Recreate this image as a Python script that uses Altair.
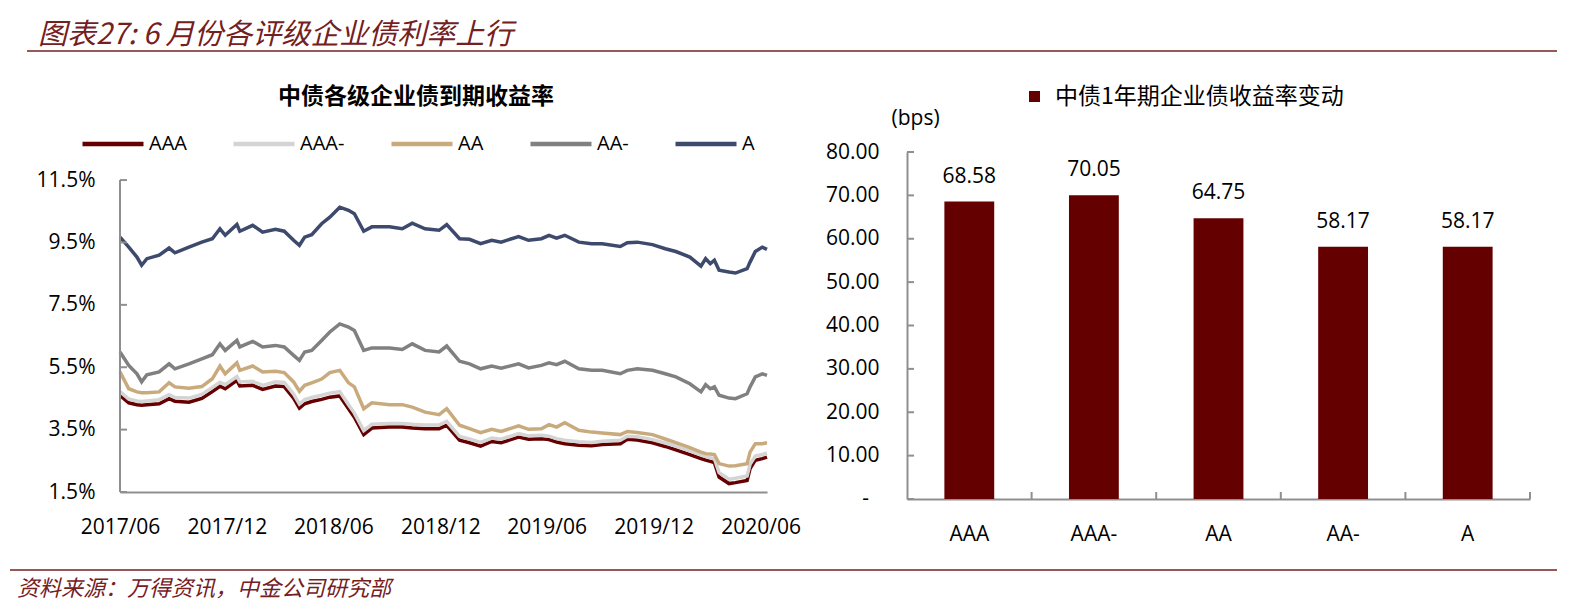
import altair as alt
import pandas as pd

# ---------------- data ----------------
dates = ["2017-06-01","2017-06-16","2017-06-30","2017-07-08","2017-07-17","2017-08-07","2017-08-24",
         "2017-09-03","2017-09-27","2017-10-19","2017-11-06","2017-11-19","2017-11-28","2017-12-18",
         "2017-12-23","2018-01-14","2018-01-31","2018-02-22","2018-03-09","2018-03-25","2018-04-04",
         "2018-04-13","2018-04-25","2018-05-12","2018-05-26","2018-06-12","2018-06-27","2018-07-07",
         "2018-07-23","2018-08-06","2018-09-05","2018-09-27","2018-10-14","2018-11-05","2018-11-29",
         "2018-12-12","2019-01-03","2019-01-20","2019-02-08","2019-02-27","2019-03-15","2019-04-14",
         "2019-05-01","2019-05-23","2019-06-05","2019-06-18","2019-07-02","2019-07-26","2019-08-17",
         "2019-09-04","2019-10-05","2019-10-17","2019-11-03","2019-11-29","2019-12-21","2020-01-08",
         "2020-02-01","2020-02-20","2020-02-28","2020-03-07","2020-03-14","2020-03-22","2020-04-08",
         "2020-04-19","2020-05-09","2020-05-14","2020-05-23","2020-06-04","2020-06-12"]

aaa = [4.60,4.36,4.30,4.28,4.30,4.33,4.49,4.41,4.38,4.50,
       4.72,4.89,4.81,5.08,4.90,4.92,4.79,4.90,4.88,4.51,
       4.19,4.33,4.40,4.47,4.54,4.58,4.17,3.90,3.34,3.55,
       3.58,3.58,3.55,3.53,3.53,3.64,3.16,3.08,2.97,3.12,
       3.08,3.26,3.19,3.21,3.18,3.10,3.05,3.00,2.98,3.02,
       3.05,3.19,3.17,3.08,2.96,2.85,2.70,2.57,2.52,2.48,
       2.44,1.98,1.77,1.80,1.87,2.25,2.52,2.57,2.62]

aaa_minus = [4.72,4.48,4.42,4.40,4.42,4.46,4.62,4.53,4.51,4.63,
             4.85,5.02,4.94,5.20,5.03,5.05,4.92,5.03,5.01,4.64,
             4.32,4.46,4.53,4.60,4.67,4.72,4.30,4.03,3.47,3.67,
             3.70,3.70,3.67,3.65,3.65,3.76,3.28,3.20,3.09,3.23,
             3.19,3.37,3.30,3.32,3.29,3.21,3.16,3.11,3.09,3.13,
             3.16,3.29,3.27,3.18,3.07,2.97,2.82,2.69,2.64,2.60,
             2.57,2.12,1.91,1.94,2.01,2.39,2.65,2.70,2.75]

aa = [5.35,4.81,4.71,4.68,4.68,4.71,5.00,4.87,4.83,4.88,
      5.13,5.54,5.29,5.64,5.40,5.54,5.35,5.37,5.33,5.03,
      4.73,4.92,5.00,5.12,5.33,5.40,5.00,4.87,4.17,4.36,
      4.30,4.30,4.22,4.06,3.98,4.17,3.64,3.53,3.40,3.51,
      3.44,3.62,3.51,3.53,3.66,3.58,3.72,3.48,3.42,3.39,
      3.34,3.44,3.41,3.34,3.20,3.08,2.92,2.78,2.73,2.72,
      2.70,2.41,2.33,2.34,2.41,2.78,3.05,3.05,3.08]

aa_minus = [5.99,5.56,5.29,5.03,5.26,5.35,5.61,5.45,5.61,5.77,
            5.90,6.25,6.04,6.36,6.15,6.33,6.15,6.20,6.15,5.88,
            5.72,5.99,6.04,6.36,6.63,6.89,6.79,6.68,6.04,6.12,
            6.12,6.07,6.25,6.04,5.99,6.18,5.69,5.61,5.45,5.54,
            5.47,5.61,5.48,5.56,5.64,5.58,5.69,5.45,5.40,5.40,
            5.29,5.40,5.45,5.40,5.29,5.19,4.97,4.71,4.94,4.81,
            4.87,4.60,4.51,4.49,4.65,4.87,5.19,5.29,5.24]

a_rating = [9.67,9.35,9.03,8.77,8.98,9.09,9.32,9.17,9.35,9.51,
            9.62,9.94,9.73,10.08,9.86,10.05,9.83,9.92,9.86,9.57,
            9.41,9.67,9.75,10.10,10.31,10.63,10.53,10.42,9.86,10.00,
            10.00,9.94,10.12,9.94,9.89,10.07,9.62,9.60,9.46,9.57,
            9.51,9.69,9.57,9.62,9.73,9.64,9.73,9.51,9.46,9.46,
            9.37,9.49,9.51,9.43,9.30,9.21,9.03,8.74,8.98,8.82,
            8.93,8.61,8.55,8.52,8.66,8.87,9.21,9.35,9.28]

ratings = ["AAA", "AAA-", "AA", "AA-", "A"]
line_colors = ["#660000", "#d4d4d4", "#c9aa7d", "#808080", "#3d4a6d"]

bar_categories = ["AAA", "AAA-", "AA", "AA-", "A"]
bar_values = [68.58, 70.05, 64.75, 58.17, 58.17]
bar_series = "中债1年期企业债收益率变动"
bar_color = "#650000"

left_y_ticks = [1.5, 3.5, 5.5, 7.5, 9.5, 11.5]
right_y_ticks = [0, 10, 20, 30, 40, 50, 60, 70, 80]
zero_label = "-"
x_tick_months = [(2017, 6), (2017, 12), (2018, 6), (2018, 12), (2019, 6), (2019, 12), (2020, 6)]
band_edges = [1, 2, 3, 4, 5]

chart_title = "图表27: 6 月份各评级企业债利率上行"
left_title = "中债各级企业债到期收益率"
source_note = "资料来源：万得资讯，中金公司研究部"
unit_label = "(bps)"

LATIN = "Open Sans"
CJK = "Noto Sans CJK SC"
AXIS_GRAY = "#8f8f8f"
BRAND = "#74201f"

series_values = {"AAA": aaa, "AAA-": aaa_minus, "AA": aa, "AA-": aa_minus, "A": a_rating}
rows = []
for r in ratings:
    for d, v in zip(dates, series_values[r]):
        rows.append({"date": d, "rating": r, "value": v})
lines_df = pd.DataFrame(rows)

# ---------------- left chart ----------------
x_scale = alt.Scale(type="utc", nice=False,
                    domain=[alt.DateTime(year=2017, month=6, date=1, utc=True),
                            alt.DateTime(year=2020, month=6, date=12, utc=True)])
x_axis = alt.Axis(values=[alt.DateTime(year=y, month=m, date=1, utc=True) for y, m in x_tick_months],
                  labelExpr="utcFormat(datum.value, '%Y/%m')", ticks=False, grid=False,
                  domainColor=AXIS_GRAY, domainWidth=2, labelFont=LATIN, labelFontSize=21,
                  labelColor="#000000", labelPadding=24, labelFlush=False, labelOverlap=False,
                  title=None)
y_scale = alt.Scale(domain=[1.5, 12.4], nice=False, zero=False)
y_axis = alt.Axis(values=left_y_ticks, labelExpr="format(datum.value, '.1f') + '%'",
                  domain=False, ticks=False, grid=False, labelFont=LATIN, labelFontSize=21,
                  labelColor="#000000", labelPadding=25, labelFlush=False, labelOverlap=False,
                  title=None)
color_scale = alt.Scale(domain=ratings, range=line_colors)
line_legend = alt.Legend(title=None, orient="none", legendX=-40, legendY=-41, direction="horizontal",
                         symbolType="stroke", symbolSize=3721, symbolStrokeWidth=4.5,
                         labelFont=LATIN, labelFontSize=20, labelColor="#000000", labelOffset=3,
                         columnPadding=37, padding=0)

line_layers = []
for r in ratings:
    line_layers.append(
        alt.Chart(lines_df).transform_filter(alt.datum.rating == r).mark_line(strokeWidth=3.5).encode(
            x=alt.X("date:T", scale=x_scale, axis=x_axis),
            y=alt.Y("value:Q", scale=y_scale, axis=y_axis),
            color=alt.Color("rating:N", scale=color_scale, legend=line_legend),
        )
    )

left_axis_line = alt.Chart(pd.DataFrame({"lo": [left_y_ticks[0]], "hi": [left_y_ticks[-1]]})).mark_rule(
    color=AXIS_GRAY, strokeWidth=2).encode(
    x=alt.value(0), y=alt.Y("lo:Q", scale=y_scale, axis=y_axis), y2="hi:Q")
left_ticks = alt.Chart(pd.DataFrame({"v": left_y_ticks})).mark_rule(color=AXIS_GRAY, strokeWidth=2).encode(
    y=alt.Y("v:Q", scale=y_scale, axis=y_axis), x=alt.value(0), x2=alt.value(7))

one = pd.DataFrame({"t": [""]})
title_mark = alt.Chart(pd.DataFrame({"t": [chart_title]})).mark_text(
    align="left", baseline="alphabetic", font=CJK, fontSize=29, fontStyle="italic", color=BRAND).encode(
    x=alt.value(-82), y=alt.value(-108), text="t:N")
top_rule = alt.Chart(one).mark_rule(color=BRAND, strokeWidth=1.5).encode(
    x=alt.value(-93), x2=alt.value(1437), y=alt.value(-101))
bottom_rule = alt.Chart(one).mark_rule(color=BRAND, strokeWidth=1.5).encode(
    x=alt.value(-110), x2=alt.value(1437), y=alt.value(418))
source_mark = alt.Chart(pd.DataFrame({"t": [source_note]})).mark_text(
    align="left", baseline="alphabetic", font=CJK, fontSize=22, fontStyle="italic", color=BRAND).encode(
    x=alt.value(-103), y=alt.value(444), text="t:N")
left_title_mark = alt.Chart(pd.DataFrame({"t": [left_title]})).mark_text(
    align="center", baseline="middle", font=CJK, fontSize=23, fontWeight="bold", color="#000000").encode(
    x=alt.value(296), y=alt.value(-55), text="t:N")

left = alt.layer(*line_layers, left_axis_line, left_ticks, title_mark, top_rule, bottom_rule,
                 source_mark, left_title_mark).properties(width=647, height=340)

# ---------------- right chart ----------------
bar_df = pd.DataFrame({"cat": bar_categories, "val": bar_values, "series": [bar_series] * len(bar_values)})
band_scale = alt.Scale(paddingInner=0.6, paddingOuter=0.3)
ry_scale = alt.Scale(domain=[0, 80], nice=False)
ry_axis = alt.Axis(values=right_y_ticks,
                   labelExpr="datum.value == 0 ? '' : format(datum.value, '.2f')",
                   ticks=False, grid=False, domainColor=AXIS_GRAY, domainWidth=2,
                   labelFont=LATIN, labelFontSize=21, labelColor="#000000", labelPadding=28,
                   labelOverlap=False,
                   title=unit_label, titleAngle=0, titleX=-16, titleY=-34, titleAlign="left",
                   titleBaseline="middle", titleFont=LATIN, titleFontSize=21,
                   titleFontWeight="normal", titleColor="#000000")

bars = alt.Chart(bar_df).mark_bar().encode(
    x=alt.X("cat:N", sort=bar_categories, scale=band_scale,
            axis=alt.Axis(labelAngle=0, ticks=False, domainColor=AXIS_GRAY, domainWidth=2,
                          labelFont=LATIN, labelFontSize=21, labelColor="#000000", labelPadding=24,
                          title=None)),
    y=alt.Y("val:Q", scale=ry_scale, axis=ry_axis),
    color=alt.Color("series:N", scale=alt.Scale(domain=[bar_series], range=[bar_color]),
                    legend=alt.Legend(title=None, orient="none", legendX=116, legendY=-67,
                                      symbolType="square", symbolSize=121, symbolStrokeWidth=0,
                                      labelFont=CJK, labelFontSize=23, labelColor="#000000",
                                      labelOffset=9, labelLimit=500, padding=0)),
)
bar_labels = alt.Chart(bar_df).mark_text(baseline="alphabetic", dy=-19, font=LATIN, fontSize=21,
                                         color="#000000").encode(
    x=alt.X("cat:N", sort=bar_categories, scale=band_scale, axis=None),
    y=alt.Y("val:Q", scale=ry_scale, axis=ry_axis),
    text=alt.Text("val:Q", format=".2f"),
)
zero_mark = alt.Chart(pd.DataFrame({"v": [right_y_ticks[0]], "t": [zero_label]})).mark_text(
    align="right", baseline="middle", font=LATIN, fontSize=21, color="#000000").encode(
    x=alt.value(-38), y=alt.Y("v:Q", scale=ry_scale, axis=ry_axis), text="t:N")
ry_ticks = alt.Chart(pd.DataFrame({"v": right_y_ticks})).mark_rule(color=AXIS_GRAY, strokeWidth=2).encode(
    y=alt.Y("v:Q", scale=ry_scale, axis=ry_axis), x=alt.value(0), x2=alt.value(7))
rx_ticks = alt.Chart(pd.DataFrame({"b": band_edges})).mark_rule(color=AXIS_GRAY, strokeWidth=2).encode(
    x=alt.X("b:Q", scale=alt.Scale(domain=[0, len(bar_categories)], nice=False), axis=None),
    y=alt.value(340), y2=alt.value(347))

right = alt.layer(bars, bar_labels, zero_mark, ry_ticks, rx_ticks).resolve_scale(x="independent").properties(
    width=623, height=347)

chart = alt.hconcat(left, right, spacing=140, bounds="flush").resolve_scale(
    color="independent").properties(
    padding={"left": 0, "top": 12, "right": 0, "bottom": 0}).configure_view(stroke="transparent")

chart.save("out.html", embed_options={"renderer": "svg", "actions": False})
